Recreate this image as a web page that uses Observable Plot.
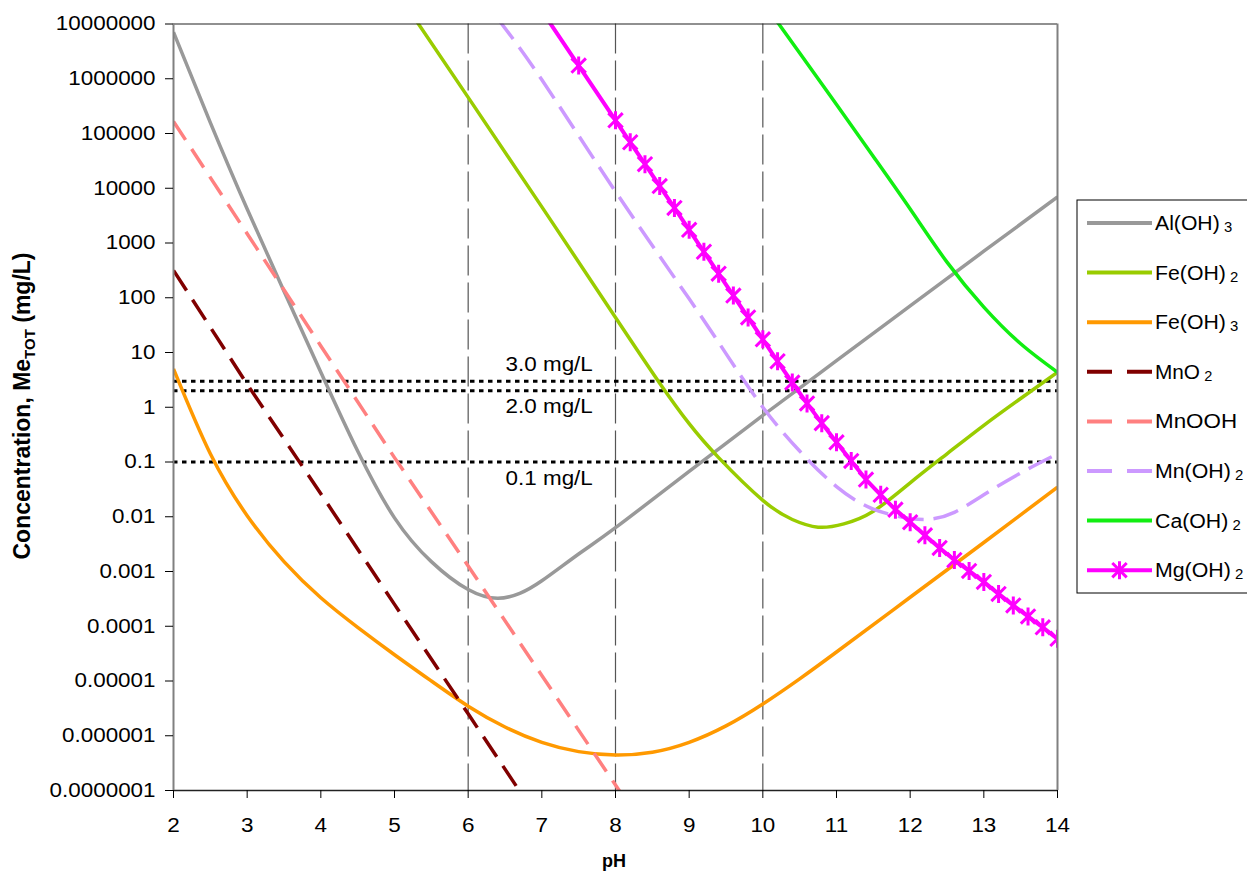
<!DOCTYPE html>
<html><head><meta charset="utf-8">
<script src="https://cdn.jsdelivr.net/npm/d3@7"></script>
<script src="https://cdn.jsdelivr.net/npm/@observablehq/plot@0.6"></script>
<style>
body{margin:0;background:#fff;}
#chart{position:relative;width:1247px;height:877px;overflow:hidden;}
</style>
</head><body><div id="chart"></div>
<script>
// ---- axis ticks ----
const pHTicks = [2,3,4,5,6,7,8,9,10,11,12,13,14];
const pHTickLabels = ["2","3","4","5","6","7","8","9","10","11","12","13","14"];
const concTicks = [1e7,1e6,1e5,1e4,1e3,1e2,1e1,1,1e-1,1e-2,1e-3,1e-4,1e-5,1e-6,1e-7];
const concTickLabels = ["10000000","1000000","100000","10000","1000","100","10","1","0.1","0.01","0.001","0.0001","0.00001","0.000001","0.0000001"];

// ---- reference lines ----
const refLevels = [3, 2, 0.1];
const refLabels = ["3.0 mg/L", "2.0 mg/L", "0.1 mg/L"];
const pHGuides = [6, 8, 10];

// ---- series (pH, log10 concentration in mg/L) ----
const seriesNames = ["Al(OH)3","Fe(OH)2","Fe(OH)3","MnO2","MnOOH","Mn(OH)2","Ca(OH)2","Mg(OH)2"];

const alPH  = [2, 2.5, 3, 3.5, 4, 4.5, 5, 5.5, 6, 6.4, 6.7, 7, 7.5, 8, 9, 10, 11, 12, 13, 14];
const alLog = [6.85, 5.2, 3.62, 2.12, 0.64, -0.8, -2.02, -2.82, -3.33, -3.49, -3.4, -3.17, -2.68, -2.2, -1.17, -0.15, 0.85, 1.85, 2.85, 3.84];

const fe2PH  = [5.2, 6, 7, 8, 8.6, 9, 9.4, 10, 10.4, 10.75, 11.1, 11.5, 12, 12.5, 13, 13.5, 14];
const fe2Log = [7.25, 5.66, 3.66, 1.64, 0.44, -0.3, -0.92, -1.7, -2.05, -2.19, -2.13, -1.9, -1.38, -0.85, -0.33, 0.16, 0.64];

const fe3PH  = [2, 2.5, 3, 3.5, 4, 4.5, 5, 5.5, 6, 6.5, 7, 7.5, 8, 8.5, 9, 9.5, 10, 10.5, 11, 12, 13, 14];
const fe3Log = [0.7, -0.85, -1.98, -2.82, -3.48, -4.02, -4.52, -5.0, -5.46, -5.84, -6.12, -6.29, -6.35, -6.3, -6.12, -5.82, -5.42, -4.96, -4.47, -3.47, -2.47, -1.46];

const mno2PH  = [2, 3, 4, 5, 6, 7];
const mno2Log = [2.5, 0.42, -1.58, -3.6, -5.6, -7.62];

const mnoohPH  = [2, 3, 4, 5, 6, 7, 8, 8.5];
const mnoohLog = [5.22, 3.17, 1.12, -0.92, -2.9, -4.9, -6.9, -7.9];

const mn2PH  = [6.4, 7, 8, 9, 9.5, 10, 10.5, 11, 11.5, 12, 12.3, 12.6, 13, 13.5, 14];
const mn2Log = [7.1, 5.98, 3.94, 1.98, 0.98, 0.0, -0.8, -1.45, -1.86, -2.03, -2.04, -1.92, -1.6, -1.2, -0.85];

const caPH  = [10.1, 10.5, 11, 11.5, 12, 12.5, 13, 13.5, 14];
const caLog = [7.22, 6.47, 5.53, 4.58, 3.62, 2.65, 1.83, 1.16, 0.64];

const mgPH  = [7.0, 7.5, 8.0, 8.2, 8.4, 8.6, 8.8, 9.0, 9.2, 9.4, 9.6, 9.8, 10.0, 10.2, 10.4, 10.6, 10.8, 11.0, 11.2, 11.4, 11.6, 11.8, 12.0, 12.2, 12.4, 12.6, 12.8, 13.0, 13.2, 13.4, 13.6, 13.8, 14.0];
const mgLog = [7.24, 6.24, 5.24, 4.84, 4.44, 4.04, 3.64, 3.24, 2.84, 2.44, 2.04, 1.64, 1.24, 0.84, 0.45, 0.07, -0.29, -0.64, -0.98, -1.32, -1.60, -1.87, -2.10, -2.34, -2.57, -2.79, -2.99, -3.19, -3.41, -3.62, -3.82, -4.02, -4.23];

// ---- styles ----
const seriesStyle = [
  {color: "#999999", dash: null, width: 3.5, curve: "natural"},
  {color: "#99cc00", dash: null, width: 3.5, curve: "natural"},
  {color: "#ff9900", dash: null, width: 3.5, curve: "natural"},
  {color: "#800000", dash: "24,11", width: 3.5, curve: "linear"},
  {color: "#ff8080", dash: "22,11", width: 3.5, curve: "linear"},
  {color: "#cc99ff", dash: "26,10", width: 3.5, curve: "natural"},
  {color: "#11ee11", dash: null, width: 3.5, curve: "natural"},
  {color: "#ff00ff", dash: null, width: 4, curve: "linear"}
];
const seriesData = [[alPH, alLog],[fe2PH, fe2Log],[fe3PH, fe3Log],[mno2PH, mno2Log],[mnoohPH, mnoohLog],[mn2PH, mn2Log],[caPH, caLog],[mgPH, mgLog]];

const tables = seriesData.map(([ph, lg], k) => ph.map((p, i) => ({series: seriesNames[k], pH: p, c: Math.pow(10, lg[i])})));

// Excel-style star marker (X with vertical bar)
const star = {
  draw(context, size) {
    const r = Math.sqrt(size / Math.PI);
    const a = r * 0.8;
    context.moveTo(0, -r); context.lineTo(0, r);
    context.moveTo(-a, -a); context.lineTo(a, a);
    context.moveTo(-a, a); context.lineTo(a, -a);
  }
};

const marks = [
  Plot.ruleX(pHGuides, {stroke: "#555", strokeWidth: 1.2, strokeDasharray: "30,7"}),
  Plot.ruleY(refLevels, {stroke: "#000", strokeWidth: 3, strokeDasharray: "4.5,4.5"}),
  Plot.text([refLabels[0]], {x: () => 7.1, y: () => refLevels[0], dy: -17, fontSize: 20, fill: "#000"}),
  Plot.text([refLabels[1]], {x: () => 7.1, y: () => refLevels[1], dy: 16, fontSize: 20, fill: "#000"}),
  Plot.text([refLabels[2]], {x: () => 7.1, y: () => refLevels[2], dy: 17, fontSize: 20, fill: "#000"})
];
tables.forEach((t, k) => {
  const s = seriesStyle[k];
  marks.push(Plot.line(t, {x: "pH", y: "c", stroke: s.color, strokeWidth: s.width,
    strokeDasharray: s.dash ?? undefined, curve: s.curve, clip: true, strokeLinecap: "butt"}));
});
marks.push(Plot.dot(tables[7], {x: "pH", y: "c", symbol: star, r: 9, stroke: "#ff00ff", strokeWidth: 3, fill: "none", clip: true}));
marks.push(
  Plot.ruleY([1e7], {stroke: "#222", strokeWidth: 1.2}),
  Plot.ruleY([1e-7], {stroke: "#222", strokeWidth: 1.5}),
  Plot.ruleX([2], {stroke: "#808080", strokeWidth: 2}),
  Plot.ruleX([14], {stroke: "#808080", strokeWidth: 2}),
  Plot.axisX({ticks: pHTicks, tickFormat: d => pHTickLabels[pHTicks.indexOf(d)], tickSize: 8, tickPadding: 19, fontSize: 20, label: null}),
  Plot.axisY({ticks: concTicks, tickFormat: d => concTickLabels[Math.round(7 - Math.log10(d))], tickSize: 8, tickPadding: 10, fontSize: 20, label: null})
);

const plot = Plot.plot({
  width: 1247, height: 877,
  marginLeft: 173, marginRight: 190, marginTop: 23.5, marginBottom: 87,
  x: {domain: [2, 14]},
  y: {type: "log", domain: [1e-7, 1e7]},
  style: {fontFamily: "'Liberation Sans', Arial, sans-serif", fontSize: "20px", background: "#fff", color: "#000"},
  marks
});
document.getElementById("chart").appendChild(plot);

const svg = d3.select(plot);
const STRETCH = 1.12; // the source picture is slightly widened horizontally
function widen(sel) {
  sel.each(function() {
    const L = this.getComputedTextLength();
    if (L > 0) { this.setAttribute("textLength", (L * STRETCH).toFixed(1)); this.setAttribute("lengthAdjust", "spacingAndGlyphs"); }
  });
}
widen(svg.selectAll("text"));

// ---- axis titles ----
const yt = svg.append("text")
  .attr("transform", "translate(30,406) rotate(-90)")
  .attr("text-anchor", "middle")
  .style("font-weight", "bold").style("font-size", "23px").attr("fill", "#000");
yt.append("tspan").text("Concentration, Me");
yt.append("tspan").attr("dy", 5).style("font-size", "15px").text("TOT");
yt.append("tspan").attr("dy", -5).text(" (mg/L)");
svg.append("text").attr("x", 614).attr("y", 867).attr("text-anchor", "middle")
  .style("font-weight", "bold").style("font-size", "18px").attr("fill", "#000").text("pH");

// ---- legend ----
const lg = svg.append("g");
lg.append("rect").attr("x", 1077).attr("y", 200).attr("width", 200).attr("height", 393)
  .attr("fill", "#fff").attr("stroke", "#000").attr("stroke-width", 1);
seriesNames.forEach((name, i) => {
  const s = seriesStyle[i];
  const y = 223 + i * 49.6;
  lg.append("line").attr("x1", 1087).attr("x2", 1152).attr("y1", y).attr("y2", y)
    .attr("stroke", s.color).attr("stroke-width", 4)
    .attr("stroke-dasharray", s.dash ? "25,15" : null);
  if (i === 7) {
    const p = d3.path(); star.draw(p, Math.PI * 9 * 9);
    lg.append("path").attr("d", p.toString()).attr("transform", `translate(1119.5,${y})`)
      .attr("stroke", s.color).attr("stroke-width", 3).attr("fill", "none");
  }
  const m = name.match(/^(.*?)(\d?)$/);
  const t = lg.append("text").attr("x", 1155).attr("y", y + 7).attr("fill", "#000")
    .attr("text-anchor", "start").style("font-size", "20px");
  t.append("tspan").text(m[1]);
  if (m[2]) t.append("tspan").attr("dx", 4).attr("dy", 2).style("font-size", "14px").text(m[2]);
  widen(t);
});
</script>
</body></html>
